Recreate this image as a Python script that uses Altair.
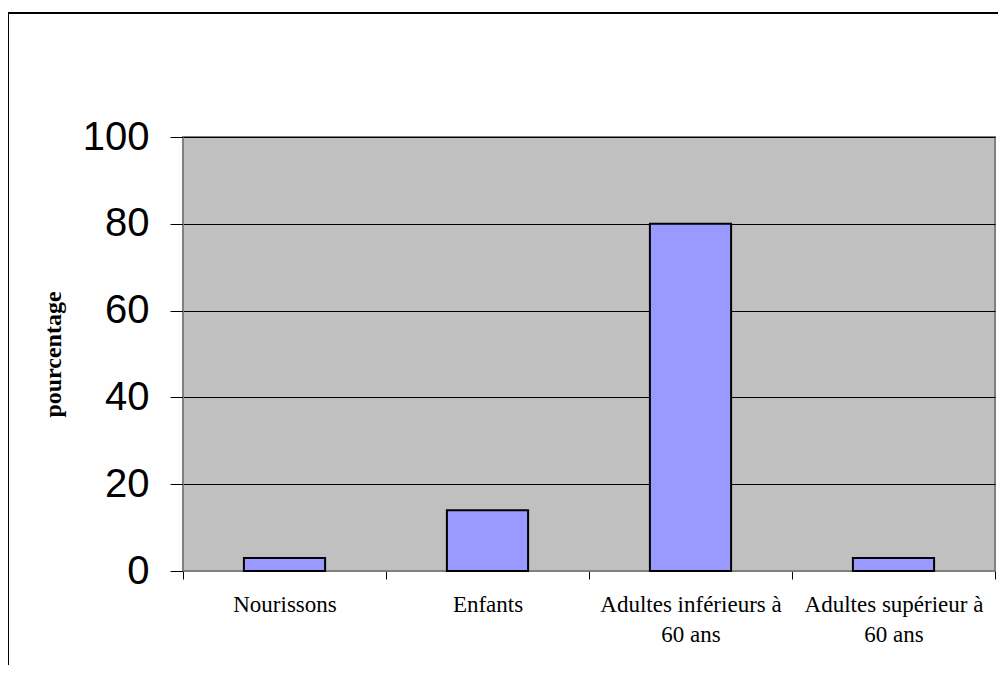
import altair as alt
import pandas as pd

categories = ["Nourissons", "Enfants", "Adultes inférieurs à\n60 ans", "Adultes supérieur à\n60 ans"]
values = [3, 14, 80, 3]
y_ticks = [0, 20, 40, 60, 80, 100]

df = pd.DataFrame({"cat": categories, "val": values})

SERIF = "Times New Roman, Liberation Serif, DejaVu Serif, serif"
SANS = "Arial, Liberation Sans, sans-serif"

bars = alt.Chart(df).mark_bar(
    color="#9999FF", stroke="black", strokeWidth=2,
    width=alt.RelativeBandSize(0.4)
).encode(
    x=alt.X("cat:N", sort=categories, title=None,
            scale=alt.Scale(paddingInner=0, paddingOuter=0),
            axis=alt.Axis(labelAngle=0, labelFont=SERIF, labelFontSize=23,
                          labelColor="black", labelLineHeight=30, labelPadding=14,
                          labelExpr="split(datum.label, '\\n')", labelBaseline="top",
                          tickBand="extent", tickSize=8, tickColor="black",
                          domainColor="#808080", grid=False, labelLimit=400)),
    y=alt.Y("val:Q", title="pourcentage",
            scale=alt.Scale(domain=[0, 100], nice=False),
            axis=alt.Axis(values=y_ticks, labelFont=SANS, labelFontSize=40,
                          labelColor="black", labelPadding=21, tickSize=13, tickColor="black",
                          grid=True, gridColor="black", gridWidth=1, gridOpacity=1,
                          domainColor="#808080",
                          titleFont=SERIF, titleFontSize=24, titleFontWeight="bold",
                          titleColor="black", titleX=-123, titleY=217, titleAngle=-90,
                          titleAlign="center", titleBaseline="alphabetic"))
)

frame = pd.DataFrame({"k": [0]})
left_line = alt.Chart(frame).mark_rule(color="black", strokeWidth=2).encode(
    x=alt.value(-175), y=alt.value(-124), y2=alt.value(540))
top_line = alt.Chart(frame).mark_rule(color="black", strokeWidth=2).encode(
    x=alt.value(-175), x2=alt.value(830), y=alt.value(-124))

chart = alt.layer(bars, left_line, top_line).properties(
    width=812, height=434,
    autosize=alt.AutoSizeParams(type="none"),
    padding={"left": 175, "top": 129, "right": 3, "bottom": 94},
).configure_view(fill="#C0C0C0", stroke="#808080", strokeWidth=2)

chart.save("out.html", embed_options={"renderer": "svg", "actions": False})
